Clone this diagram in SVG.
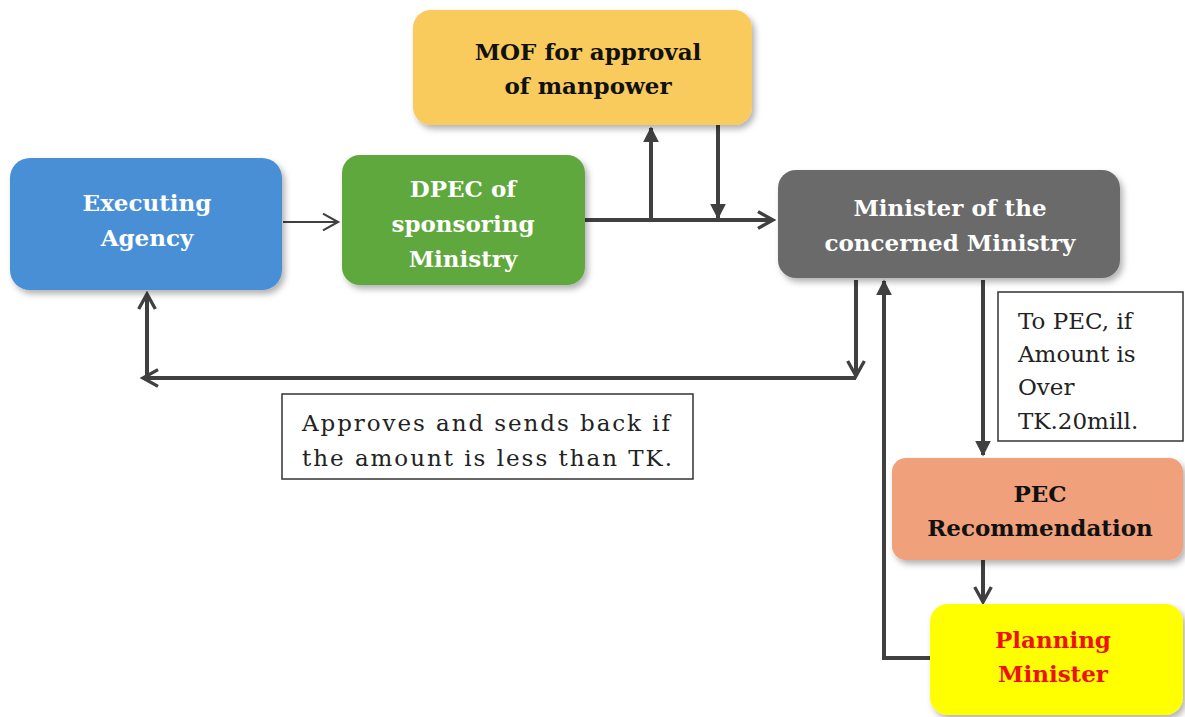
<svg xmlns="http://www.w3.org/2000/svg" width="1185" height="717" viewBox="0 0 1185 717">
<style>
.node{stroke:none;filter:url(#sh)}
.nt{font-family:"DejaVu Serif","Liberation Serif",serif;font-weight:bold;font-size:23px;text-anchor:middle}
.w{fill:#ffffff}
.k{fill:#111111}
.lbl{font-family:"DejaVu Serif","Liberation Serif",serif;font-size:23px;fill:#222}
.box{fill:#fff;stroke:#333;stroke-width:1.5}
.c{fill:none;stroke:#404040;stroke-width:4}
.thin{fill:none;stroke:#404040;stroke-width:2}
</style>
<defs>
<filter id="sh" x="-10%" y="-10%" width="125%" height="130%">
<feDropShadow dx="3" dy="4" stdDeviation="3" flood-color="#000" flood-opacity="0.3"/>
</filter>
<marker id="open" viewBox="0 0 12 12" refX="10" refY="6" markerWidth="5" markerHeight="5" orient="auto" markerUnits="strokeWidth">
<path d="M1,1 L10,6 L1,11" fill="none" stroke="#404040" stroke-width="2"/>
</marker>
<marker id="openT" viewBox="0 0 12 12" refX="10" refY="6" markerWidth="10" markerHeight="10" orient="auto" markerUnits="strokeWidth">
<path d="M1,1 L10,6 L1,11" fill="none" stroke="#404040" stroke-width="1.3"/>
</marker>
<marker id="fill" viewBox="0 0 10 10" refX="9" refY="5" markerWidth="4" markerHeight="4" orient="auto" markerUnits="strokeWidth">
<path d="M0,0 L10,5 L0,10 z" fill="#404040"/>
</marker>
</defs>
<rect width="1185" height="717" fill="#ffffff"/>

<g id="connectors">
<line class="thin" x1="283" y1="222" x2="338" y2="222" marker-end="url(#openT)"/>
<line class="c" x1="585" y1="220" x2="773" y2="220" marker-end="url(#open)"/>
<line class="c" x1="651" y1="220" x2="651" y2="128" marker-end="url(#fill)"/>
<line class="c" x1="718" y1="125" x2="718" y2="218" marker-end="url(#fill)"/>
<line class="c" x1="856" y1="280" x2="856" y2="376" marker-end="url(#open)"/>
<line class="c" x1="856" y1="378" x2="143" y2="378" marker-end="url(#open)"/>
<line class="c" x1="147" y1="378" x2="147" y2="294" marker-end="url(#open)"/>
<line class="c" x1="983" y1="280" x2="983" y2="455" marker-end="url(#fill)"/>
<line class="c" x1="983" y1="560" x2="983" y2="602" marker-end="url(#open)"/>
<polyline class="c" points="930,658 884,658 884,281" marker-end="url(#fill)"/>
</g>

<g id="executing-agency">
<rect class="node" x="10" y="158" width="272" height="132" rx="20" fill="#4a8fd5"/>
<text class="nt w" x="147" y="211">Executing</text>
<text class="nt w" x="147" y="246">Agency</text>
</g>

<g id="dpec">
<rect class="node" x="342" y="155" width="243" height="130" rx="18" fill="#5ea83e"/>
<text class="nt w" x="463" y="197">DPEC of</text>
<text class="nt w" x="463" y="232">sponsoring</text>
<text class="nt w" x="463" y="267">Ministry</text>
</g>

<g id="mof">
<rect class="node" x="413" y="10" width="339" height="115" rx="18" fill="#f8cb5c"/>
<text class="nt k" x="588" y="60">MOF for approval</text>
<text class="nt k" x="588" y="94">of manpower</text>
</g>

<g id="minister">
<rect class="node" x="778" y="170" width="342" height="108" rx="18" fill="#6b6b6b"/>
<text class="nt w" x="950" y="216">Minister of the</text>
<text class="nt w" x="950" y="251">concerned Ministry</text>
</g>

<g id="pec">
<rect class="node" x="892" y="458" width="291" height="102" rx="14" fill="#f0a07a"/>
<text class="nt k" x="1040" y="502">PEC</text>
<text class="nt k" x="1040" y="536">Recommendation</text>
</g>

<g id="planning">
<rect class="node" x="930" y="604" width="253" height="111" rx="18" fill="#ffff00"/>
<text class="nt" fill="#ee1111" x="1053" y="648">Planning</text>
<text class="nt" fill="#ee1111" x="1053" y="682">Minister</text>
</g>

<g id="label-approves">
<rect class="box" x="282" y="394" width="411" height="85"/>
<text class="lbl" x="302" y="431" textLength="368" lengthAdjust="spacing">Approves and sends back if</text>
<text class="lbl" x="302" y="466" textLength="370" lengthAdjust="spacing">the amount is less than TK.</text>
</g>

<g id="label-topec">
<rect class="box" x="998" y="292" width="185" height="149"/>
<text class="lbl" x="1018" y="329">To PEC, if</text>
<text class="lbl" x="1018" y="362">Amount is</text>
<text class="lbl" x="1018" y="395">Over</text>
<text class="lbl" x="1018" y="429">TK.20mill.</text>
</g>
</svg>
